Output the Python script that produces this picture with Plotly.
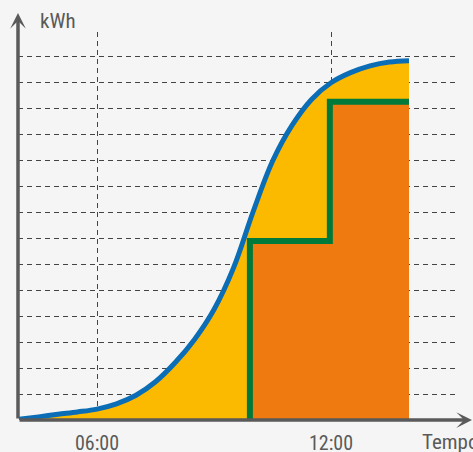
import plotly.graph_objects as go

# ---- data ----
hours = [4.0, 4.5, 5.0, 5.5, 6.0, 6.5, 7.0, 7.5, 8.0, 8.5, 9.0, 9.5,
         10.0, 10.5, 11.0, 11.5, 12.0, 12.5, 13.0, 13.5, 14.0]
energy = [0.03, 0.12, 0.22, 0.31, 0.42, 0.62, 0.95, 1.47, 2.2, 3.1, 4.25, 5.85,
          8.0, 9.95, 11.33, 12.33, 12.97, 13.36, 13.62, 13.77, 13.82]

step_hours = [9.92, 9.92, 11.97, 14.0]
step_energy = [0.0, 6.88, 12.24, 12.24]

tick_vals = [6, 12]
tick_text = ["06:00", "12:00"]
y_grid = list(range(1, 15))

x_range = [3.974, 15.205]
y_range = [0, 14.923]

YELLOW = "#FBBA00"
ORANGE = "#EF7B10"
BLUE = "#0A6DB5"
GREEN = "#007A3A"
GRAY = "#5A5A5A"
BG = "#F5F5F5"
FONT = "Liberation Sans Narrow, Roboto Condensed, Roboto, sans-serif"

fig = go.Figure()

# yellow area under the cumulative curve
fig.add_trace(go.Scatter(
    x=hours, y=energy, mode="lines",
    line=dict(width=0, shape="spline", smoothing=1.0, color=YELLOW),
    fill="tozeroy", fillcolor=YELLOW, hoverinfo="skip", showlegend=False))

# orange step area with green outline
fig.add_trace(go.Scatter(
    x=step_hours, y=step_energy, mode="lines",
    line=dict(width=6, shape="hv", color=GREEN),
    fill="tozeroy", fillcolor=ORANGE, hoverinfo="skip", showlegend=False))

# blue cumulative curve
fig.add_trace(go.Scatter(
    x=hours, y=energy, mode="lines",
    line=dict(width=5, shape="spline", smoothing=1.0, color=BLUE),
    hoverinfo="skip", showlegend=False))

fig.update_layout(
    width=473, height=452, autosize=False,
    margin=dict(l=18, r=17, t=32, b=32, pad=0),
    paper_bgcolor=BG, plot_bgcolor=BG,
    showlegend=False,
    font=dict(family=FONT, color=GRAY, size=20),
    xaxis=dict(range=x_range, tickvals=tick_vals, ticktext=tick_text,
               showgrid=True, gridcolor="#444444", gridwidth=1, griddash="5px,4px",
               zeroline=False, showline=False, ticks="", layer="above traces",
               tickfont=dict(family=FONT, size=20, color=GRAY), ticklabelstandoff=9,
               automargin=False, fixedrange=True),
    yaxis=dict(range=y_range, tickvals=y_grid, showticklabels=False,
               showgrid=True, gridcolor="#444444", gridwidth=1, griddash="5px,4px",
               zeroline=False, showline=False, ticks="", layer="above traces",
               automargin=False, fixedrange=True),
)

# axes with arrowheads
fig.add_annotation(xref="paper", yref="paper", x=0, y=(420 - 13) / 388,
                   ax=0, ay=407, axref="pixel", ayref="pixel", text="",
                   showarrow=True, arrowhead=3, arrowsize=0.75, arrowwidth=3.5,
                   arrowcolor=GRAY)
fig.add_annotation(xref="paper", yref="paper", x=(473 - 18) / 438, y=0,
                   ax=-455, ay=0, axref="pixel", ayref="pixel", text="",
                   showarrow=True, arrowhead=3, arrowsize=0.75, arrowwidth=3.5,
                   arrowcolor=GRAY)

# axis titles
fig.add_annotation(xref="paper", yref="paper", x=(38 - 18) / 438, y=(420 - 21) / 388,
                   text="kWh", showarrow=False, xanchor="left", yanchor="middle",
                   font=dict(family=FONT, size=21, color=GRAY))
fig.add_annotation(xref="paper", yref="paper", x=(420 - 18) / 438, y=(420 - 442) / 388,
                   text="Tempo", showarrow=False, xanchor="left", yanchor="middle",
                   font=dict(family=FONT, size=21, color=GRAY))

fig.write_html(
    "out.html",
    config={"displayModeBar": False, "staticPlot": True},
    post_script="document.body.style.margin='0';"
                "document.documentElement.style.overflow='hidden';"
                "document.body.style.overflow='hidden';",
)
